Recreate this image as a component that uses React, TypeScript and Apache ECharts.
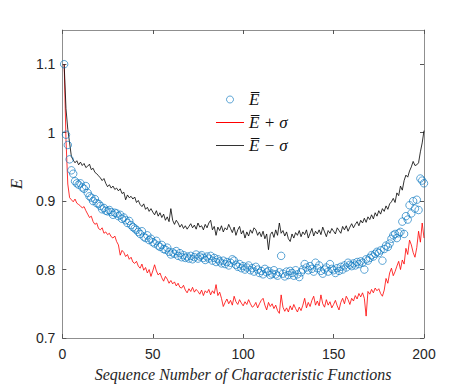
import React, { useEffect, useRef } from "react";
import * as echarts from "echarts";

const xTicks = [0, 50, 100, 150, 200];
const yTicks = [0.7, 0.8, 0.9, 1, 1.1];

const meanE = [
  1.100, 0.997, 0.982, 0.961, 0.945, 0.940, 0.929, 0.926, 0.924, 0.926,
  0.920, 0.918, 0.922, 0.912, 0.907, 0.905, 0.900, 0.903, 0.897, 0.896,
  0.893, 0.888, 0.890, 0.886, 0.885, 0.887, 0.884, 0.880, 0.883, 0.882,
  0.878, 0.880, 0.874, 0.876, 0.872, 0.868, 0.871, 0.865, 0.862, 0.860,
  0.858, 0.855, 0.852, 0.856, 0.848, 0.846, 0.850, 0.843, 0.845, 0.840,
  0.838, 0.842, 0.835, 0.833, 0.836, 0.830, 0.829, 0.832, 0.826, 0.822,
  0.825, 0.823, 0.827, 0.820, 0.824, 0.818, 0.821, 0.817, 0.819, 0.816,
  0.820, 0.815, 0.818, 0.822, 0.816, 0.819, 0.821, 0.817, 0.814, 0.819,
  0.816, 0.820, 0.813, 0.817, 0.811, 0.815, 0.812, 0.809, 0.813, 0.808,
  0.811, 0.806, 0.810, 0.815, 0.813, 0.807, 0.804, 0.808, 0.802, 0.805,
  0.800, 0.803, 0.806, 0.799, 0.802, 0.797, 0.804, 0.800, 0.795, 0.798,
  0.793, 0.801, 0.796, 0.798, 0.792, 0.794, 0.799, 0.793, 0.791, 0.796,
  0.820, 0.794, 0.790, 0.797, 0.792, 0.798, 0.795, 0.791, 0.799, 0.793,
  0.789, 0.796, 0.800, 0.808, 0.803, 0.799, 0.805, 0.801, 0.797, 0.810,
  0.802, 0.806, 0.798, 0.794, 0.800, 0.803, 0.797, 0.808, 0.801, 0.799,
  0.795, 0.802, 0.798, 0.804, 0.800, 0.806, 0.803, 0.810, 0.807, 0.805,
  0.809, 0.806, 0.811, 0.808, 0.812, 0.810, 0.800, 0.815, 0.813, 0.817,
  0.821, 0.819, 0.823, 0.826, 0.824, 0.828, 0.813, 0.830, 0.835, 0.833,
  0.838, 0.845, 0.850, 0.852, 0.846, 0.853, 0.855, 0.870, 0.852, 0.878,
  0.873, 0.894, 0.882, 0.900, 0.889, 0.902, 0.887, 0.933, 0.930, 0.926,
];

const upperE = [
  1.100, 1.035, 1.005, 0.985, 0.965, 0.960, 0.956, 0.959, 0.953, 0.957,
  0.952, 0.955, 0.949, 0.951, 0.954, 0.946, 0.948, 0.942, 0.940, 0.937,
  0.934, 0.930, 0.933, 0.926, 0.921, 0.924, 0.919, 0.922, 0.917, 0.919,
  0.915, 0.918, 0.911, 0.913, 0.902, 0.909, 0.905, 0.907, 0.903, 0.906,
  0.898, 0.901, 0.895, 0.892, 0.896, 0.888, 0.891, 0.885, 0.889, 0.884,
  0.880, 0.886, 0.878, 0.883, 0.876, 0.881, 0.872, 0.877, 0.870, 0.889,
  0.872, 0.866, 0.872, 0.868, 0.862, 0.866, 0.860, 0.864, 0.859, 0.863,
  0.867, 0.861, 0.865, 0.859, 0.868, 0.862, 0.864, 0.858, 0.866, 0.861,
  0.868, 0.872, 0.858, 0.863, 0.850, 0.862, 0.857, 0.864, 0.855, 0.861,
  0.858, 0.866, 0.860, 0.854, 0.862, 0.850, 0.858, 0.863, 0.852, 0.857,
  0.846, 0.855, 0.849, 0.858, 0.853, 0.861, 0.858, 0.850, 0.855, 0.848,
  0.856, 0.845, 0.852, 0.829, 0.851, 0.855, 0.847, 0.858, 0.850, 0.868,
  0.853, 0.857, 0.849, 0.855, 0.845, 0.841, 0.852, 0.846, 0.854, 0.850,
  0.857, 0.848, 0.855, 0.851, 0.858, 0.846, 0.853, 0.860, 0.849, 0.856,
  0.852, 0.858, 0.851, 0.862, 0.855, 0.848, 0.857, 0.853, 0.860, 0.856,
  0.852, 0.861, 0.857, 0.853, 0.863, 0.858, 0.864, 0.856, 0.862, 0.867,
  0.861, 0.866, 0.870, 0.864, 0.872, 0.868, 0.875, 0.869, 0.877, 0.873,
  0.880, 0.874, 0.883, 0.878, 0.886, 0.881, 0.889, 0.885, 0.893, 0.888,
  0.896, 0.899, 0.904, 0.898, 0.912, 0.908, 0.922, 0.916, 0.930, 0.938,
  0.935, 0.944, 0.950, 0.958, 0.952, 0.953, 0.956, 0.972, 0.985, 1.003,
];

const lowerE = [
  1.100, 0.990, 0.925, 0.905, 0.902, 0.899, 0.903, 0.897, 0.895, 0.893,
  0.890, 0.892, 0.886, 0.881, 0.876, 0.878, 0.870, 0.866, 0.868, 0.860,
  0.858, 0.861, 0.853, 0.855, 0.851, 0.853, 0.848, 0.846, 0.849, 0.841,
  0.836, 0.821, 0.828, 0.825, 0.819, 0.822, 0.815, 0.818, 0.811, 0.809,
  0.812, 0.805, 0.802, 0.808, 0.799, 0.803, 0.795, 0.800, 0.790, 0.798,
  0.807, 0.798, 0.792, 0.795, 0.788, 0.783, 0.790, 0.786, 0.780, 0.784,
  0.779, 0.782, 0.776, 0.780, 0.774, 0.773, 0.777, 0.770, 0.766, 0.772,
  0.768, 0.774, 0.767, 0.771, 0.768, 0.764, 0.770, 0.762, 0.769, 0.766,
  0.771, 0.763, 0.769, 0.765, 0.778, 0.762, 0.767, 0.758, 0.746, 0.752,
  0.757, 0.750, 0.755, 0.748, 0.761, 0.753, 0.749, 0.756, 0.751, 0.747,
  0.753, 0.749, 0.756, 0.750, 0.745, 0.747, 0.752, 0.744, 0.750, 0.755,
  0.758, 0.748, 0.741, 0.752, 0.746, 0.750, 0.743, 0.748, 0.740, 0.736,
  0.763, 0.745, 0.739, 0.744, 0.738, 0.747, 0.741, 0.749, 0.743, 0.738,
  0.745, 0.740, 0.748, 0.758, 0.744, 0.752, 0.746, 0.755, 0.761, 0.748,
  0.754, 0.747, 0.763, 0.750, 0.745, 0.756, 0.748, 0.753, 0.744, 0.749,
  0.755, 0.747, 0.741, 0.752, 0.758, 0.750, 0.761, 0.756, 0.749, 0.758,
  0.754, 0.762, 0.757, 0.765, 0.760, 0.766, 0.758, 0.732, 0.768, 0.764,
  0.771, 0.766, 0.773, 0.769, 0.772, 0.765, 0.761, 0.770, 0.787, 0.780,
  0.795, 0.802, 0.791, 0.797, 0.805, 0.812, 0.800, 0.814, 0.808, 0.831,
  0.822, 0.843, 0.836, 0.825, 0.818, 0.832, 0.856, 0.840, 0.868, 0.846,
];

const seriesNames = ["E\u0305", "E\u0305 + \u03c3", "E\u0305 \u2212 \u03c3"];
const xLabel = "Sequence Number of Characteristic Functions";
const yLabel = "E";

const frameColor = "#8f8f8f";
const textColor = "#262626";
const blue = "#0072BD";
const lineIcon = "path://M0,0L28,0L28,1L0,1Z";

export default function App() {
  const ref = useRef<HTMLDivElement>(null);
  useEffect(() => {
    document.body.style.margin = "0";
    const chart = echarts.init(ref.current!, null, { renderer: "svg" });
    const pts = (arr: number[]) => arr.map((v, i) => [i + 1, v]);
    const axisCommon = {
      type: "value" as const,
      axisLine: { show: true, onZero: false, lineStyle: { color: frameColor, width: 1 } },
      axisTick: { show: true, inside: true, length: 4, lineStyle: { color: "#555", width: 1 } },
      splitLine: { show: false },
    };
    chart.setOption({
      animation: false,
      backgroundColor: "#fff",
      grid: { left: 60, right: 45, top: 30, bottom: 47, containLabel: false },
      xAxis: [
        {
          ...axisCommon,
          position: "bottom",
          min: 0,
          max: 200,
          interval: 50,
          axisLabel: {
            color: textColor,
            fontSize: 14,
            fontFamily: "Liberation Sans",
            margin: 9,
            customValues: xTicks,
          },
          axisTick: { ...axisCommon.axisTick, customValues: xTicks },
          name: xLabel,
          nameLocation: "middle",
          nameGap: 28,
          nameTextStyle: {
            fontFamily: "Liberation Serif",
            fontStyle: "italic",
            fontSize: 16,
            color: textColor,
          },
        },
        {
          ...axisCommon,
          position: "top",
          min: 0,
          max: 200,
          interval: 50,
          axisLabel: { show: false },
        },
      ],
      yAxis: [
        {
          ...axisCommon,
          position: "left",
          min: 0.7,
          max: 1.15,
          axisLabel: {
            color: textColor,
            fontSize: 14,
            fontFamily: "Liberation Sans",
            margin: 7,
            customValues: yTicks,
          },
          axisTick: { ...axisCommon.axisTick, customValues: yTicks },
          name: yLabel,
          nameLocation: "middle",
          nameGap: 31,
          nameTextStyle: {
            fontFamily: "Liberation Serif",
            fontStyle: "italic",
            fontSize: 17,
            color: textColor,
          },
        },
        {
          ...axisCommon,
          position: "right",
          min: 0.7,
          max: 1.15,
          axisLabel: { show: false },
          axisTick: { ...axisCommon.axisTick, customValues: yTicks },
        },
      ],
      legend: {
        orient: "vertical",
        left: 211,
        top: 83,
        itemWidth: 28,
        itemHeight: 7,
        itemGap: 0,
        data: [
          {
            name: seriesNames[0],
            icon: "circle",
            itemStyle: { color: "#ffffff", borderColor: blue, borderWidth: 0.8 },
          },
          { name: seriesNames[1], icon: lineIcon },
          { name: seriesNames[2], icon: lineIcon },
        ],
        textStyle: {
          fontFamily: "Liberation Serif",
          fontStyle: "italic",
          fontSize: 17,
          lineHeight: 23,
          color: "#111",
        },
      },
      series: [
        {
          name: seriesNames[0],
          type: "scatter",
          data: pts(meanE),
          symbol: "circle",
          symbolSize: 7.5,
          itemStyle: { color: "rgba(0,0,0,0)", borderColor: blue, borderWidth: 0.8 },
          z: 3,
        },
        {
          name: seriesNames[1],
          type: "line",
          data: pts(lowerE),
          symbol: "none",
          lineStyle: { color: "#ff0000", width: 0.8 },
          itemStyle: { color: "#ff0000" },
          z: 2,
        },
        {
          name: seriesNames[2],
          type: "line",
          data: pts(upperE),
          symbol: "none",
          lineStyle: { color: "#000000", width: 0.8 },
          itemStyle: { color: "#333333" },
          z: 2,
        },
      ],
    });
    return () => chart.dispose();
  }, []);
  return (
    <div
      ref={ref}
      style={{ position: "absolute", left: 0, top: 0, width: 469, height: 387 }}
    />
  );
}
